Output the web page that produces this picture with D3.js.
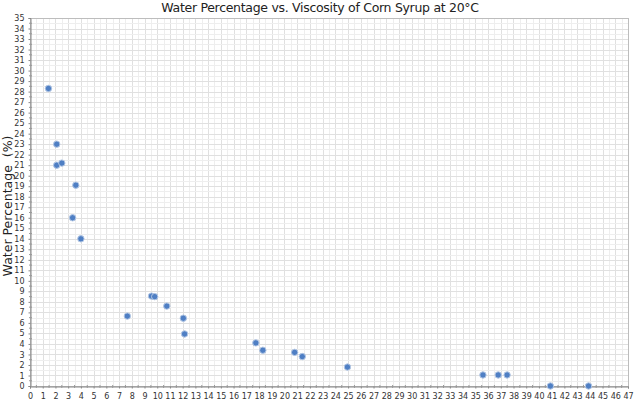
<!DOCTYPE html>
<html>
<head>
<meta charset="utf-8">
<script src="https://cdn.jsdelivr.net/npm/d3@7"></script>
<style>
  body { margin: 0; background: #fff; }
  text { font-family: Verdana, "DejaVu Sans", sans-serif; }
</style>
</head>
<body>
<div id="chart"></div>
<script>
// viscosity (x) and water percentage (y)
const viscosity = [1.45, 2.1, 2.1, 2.5, 3.6, 3.35, 4.0, 7.65, 9.55, 9.8, 10.75, 12.05, 12.15, 17.75, 18.3, 20.8, 21.4, 24.95, 35.6, 36.8, 37.5, 40.9, 43.9];
const water = [28.3, 23.0, 21.0, 21.2, 19.1, 16.0, 14.0, 6.65, 8.55, 8.5, 7.6, 6.45, 4.95, 4.1, 3.4, 3.2, 2.8, 1.8, 1.05, 1.05, 1.05, 0.0, 0.0];
const xTicks = d3.range(0, 48);
const yTicks = d3.range(0, 36);

const W = 638, H = 402;
const margin = { left: 30, top: 18, right: 10, bottom: 16 };

const svg = d3
  .select("#chart")
  .append("svg")
  .attr("width", W)
  .attr("height", H);

const x = d3.scaleLinear().domain([0, 47]).range([margin.left, W - margin.right]);
const y = d3.scaleLinear().domain([0, 35]).range([H - margin.bottom, margin.top]);

//grid at every half unit
const half = (n) => d3.range(0, n + 0.01, 0.5);
svg
  .append("g")
  .selectAll("line")
  .data(half(47))
  .enter()
  .append("line")
  .attr("x1", (d) => Math.round(x(d)) + 0.5)
  .attr("x2", (d) => Math.round(x(d)) + 0.5)
  .attr("y1", y(35))
  .attr("y2", y(0))
  .attr("stroke", (d) => (d % 1 === 0 ? "#e0e0e0" : "#eeeeee"));
svg
  .append("g")
  .selectAll("line")
  .data(half(35))
  .enter()
  .append("line")
  .attr("y1", (d) => Math.round(y(d)) + 0.5)
  .attr("y2", (d) => Math.round(y(d)) + 0.5)
  .attr("x1", x(0))
  .attr("x2", x(47))
  .attr("stroke", (d) => (d % 1 === 0 ? "#e0e0e0" : "#eeeeee"));

//plot border
svg
  .append("rect")
  .attr("x", x(0) + 0.5)
  .attr("y", y(35) + 0.5)
  .attr("width", x(47) - x(0))
  .attr("height", y(0) - y(35))
  .attr("fill", "none")
  .attr("stroke", "#bdbdbd");

//axes
const xAxis = svg
  .append("g")
  .attr("transform", `translate(0,${Math.round(y(0)) + 0.5})`)
  .call(d3.axisBottom(x).tickValues(xTicks).tickSize(2).tickFormat(d3.format("d")));
const yAxis = svg
  .append("g")
  .attr("transform", `translate(${Math.round(x(0)) + 0.5},0)`)
  .call(d3.axisLeft(y).tickValues(yTicks).tickSize(2).tickFormat(d3.format("d")));

[xAxis, yAxis].forEach((g) => {
  g.select(".domain").attr("stroke", "#888");
  g.selectAll(".tick line").attr("stroke", "#888");
  g.selectAll("text").attr("fill", "#333").style("font-size", "8px");
});
xAxis.selectAll("text").attr("dy", "0.71em").attr("y", 7);
yAxis.selectAll("text").attr("x", -6);

//minor ticks at halves
xAxis
  .selectAll(".minor")
  .data(d3.range(0.5, 47, 1))
  .enter()
  .append("line")
  .attr("x1", (d) => x(d))
  .attr("x2", (d) => x(d))
  .attr("y1", -1.5)
  .attr("y2", 1.5)
  .attr("stroke", "#999");
yAxis
  .selectAll(".minor")
  .data(d3.range(0.5, 35, 1))
  .enter()
  .append("line")
  .attr("y1", (d) => y(d))
  .attr("y2", (d) => y(d))
  .attr("x1", -1.5)
  .attr("x2", 1.5)
  .attr("stroke", "#999");

//points
svg
  .append("g")
  .selectAll("circle")
  .data(viscosity.map((v, i) => [v, water[i]]))
  .enter()
  .append("circle")
  .attr("cx", (d) => x(d[0]))
  .attr("cy", (d) => y(d[1]))
  .attr("r", 3.2)
  .attr("fill", "#4f7fc4")
  .attr("stroke", "#b3c7e4")
  .attr("stroke-width", 1);

//title
svg
  .append("text")
  .attr("x", 320)
  .attr("y", 12)
  .attr("text-anchor", "middle")
  .style("font-size", "12.5px")
  .style("letter-spacing", "-0.3px")
  .attr("fill", "#222")
  .text("Water Percentage vs. Viscosity of Corn Syrup at 20°C");

//y axis label
svg
  .append("text")
  .attr("transform", `translate(11.5,${(y(0) + y(35)) / 2 + 4}) rotate(-90)`)
  .attr("text-anchor", "middle")
  .style("font-size", "12.5px")
  .style("white-space", "pre")
  .attr("fill", "#222")
  .text("Water Percentage  (%)");
</script>
</body>
</html>
